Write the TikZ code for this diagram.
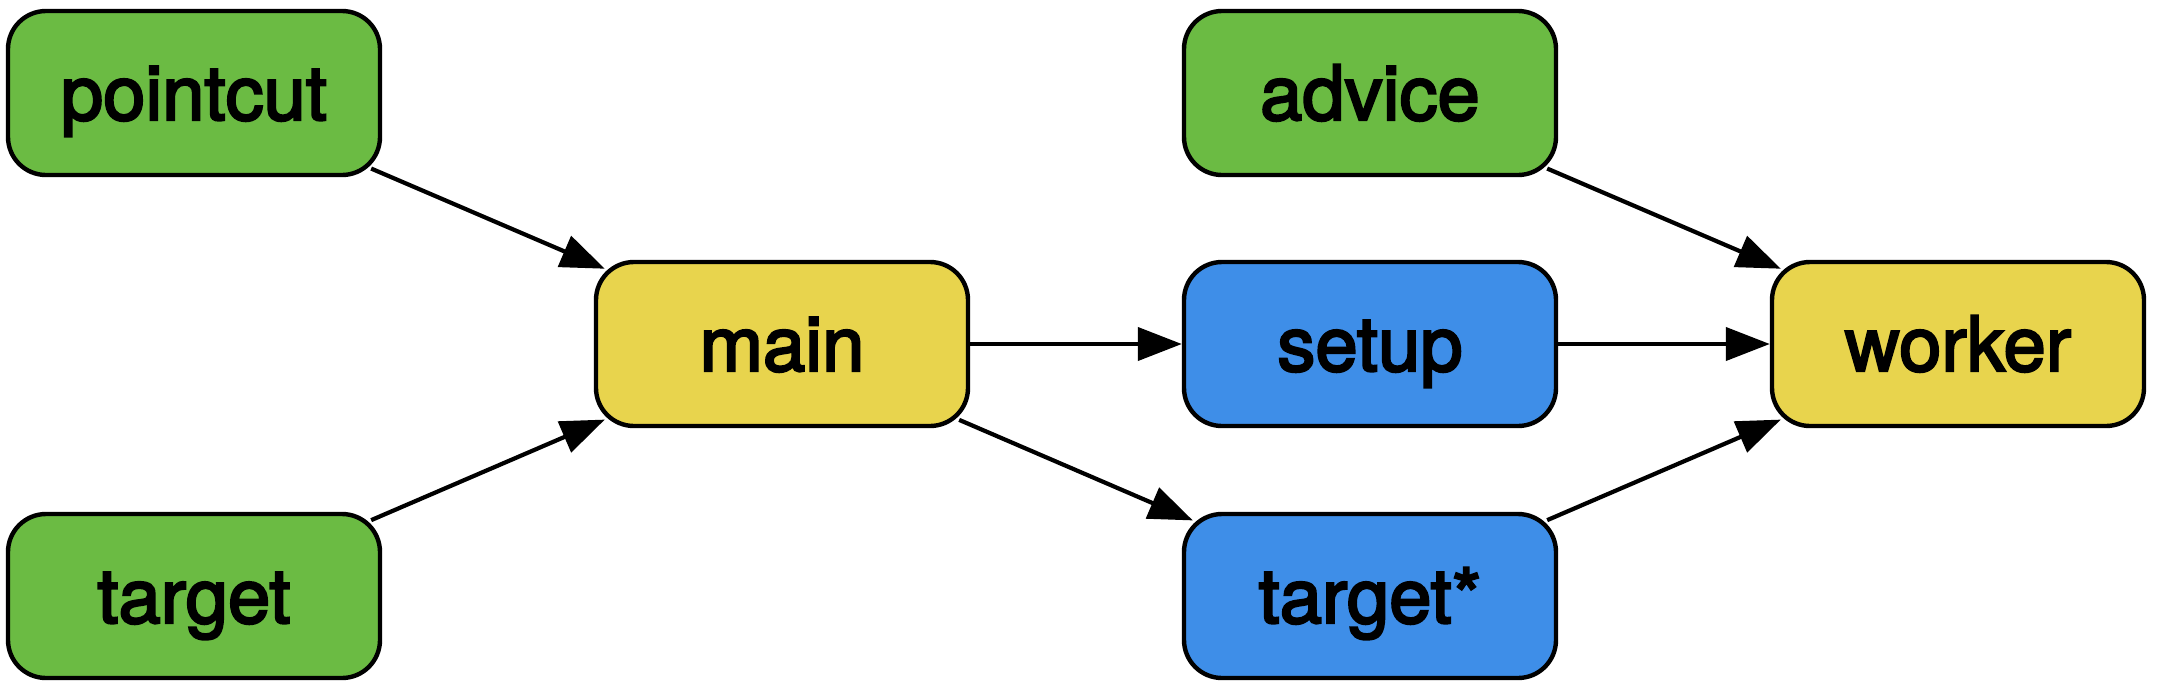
\documentclass[tikz,border=0pt]{standalone}
\usepackage{fontspec}
\newfontfamily\labfont{TeX Gyre Heros}[FakeBold=3]
\usetikzlibrary{arrows.meta}
\definecolor{cgreen}{RGB}{107,187,67}
\definecolor{cyellow}{RGB}{232,212,77}
\definecolor{cblue}{RGB}{62,142,232}
\begin{document}
\begin{tikzpicture}[x=0.5pt,y=-0.5pt,
  box/.style={draw=black, line width=2.2pt, rounded corners=19pt,
    minimum width=186pt, minimum height=82pt, inner sep=0pt,
    text height=27pt, text depth=0pt,
    font=\labfont\fontsize{38pt}{40pt}\selectfont},
  gbox/.style={box, fill=cgreen},
  ybox/.style={box, fill=cyellow},
  bbox/.style={box, fill=cblue},
  edge/.style={line width=2.1pt, -{Triangle[length=22pt,width=16.5pt]}},
  diag/.style={edge, shorten >=-6pt, shorten <=-6pt}]
\useasboundingbox (0,0) rectangle (2164,692);
\node[gbox] (pointcut) at (194,93) {pointcut};
\node[gbox] (target) at (194,596) {target};
\node[ybox] (main) at (782,344) {main};
\node[gbox] (advice) at (1370,93) {advice};
\node[bbox] (setup) at (1370,344) {setup};
\node[bbox] (targetS) at (1370,596) {target*};
\node[ybox] (worker) at (1958,344) {worker};
\draw[diag] (pointcut) -- (main);
\draw[diag] (target) -- (main);
\draw[edge] (main) -- (setup);
\draw[diag] (main) -- (targetS);
\draw[diag] (advice) -- (worker);
\draw[edge] (setup) -- (worker);
\draw[diag] (targetS) -- (worker);
\end{tikzpicture}
\end{document}
